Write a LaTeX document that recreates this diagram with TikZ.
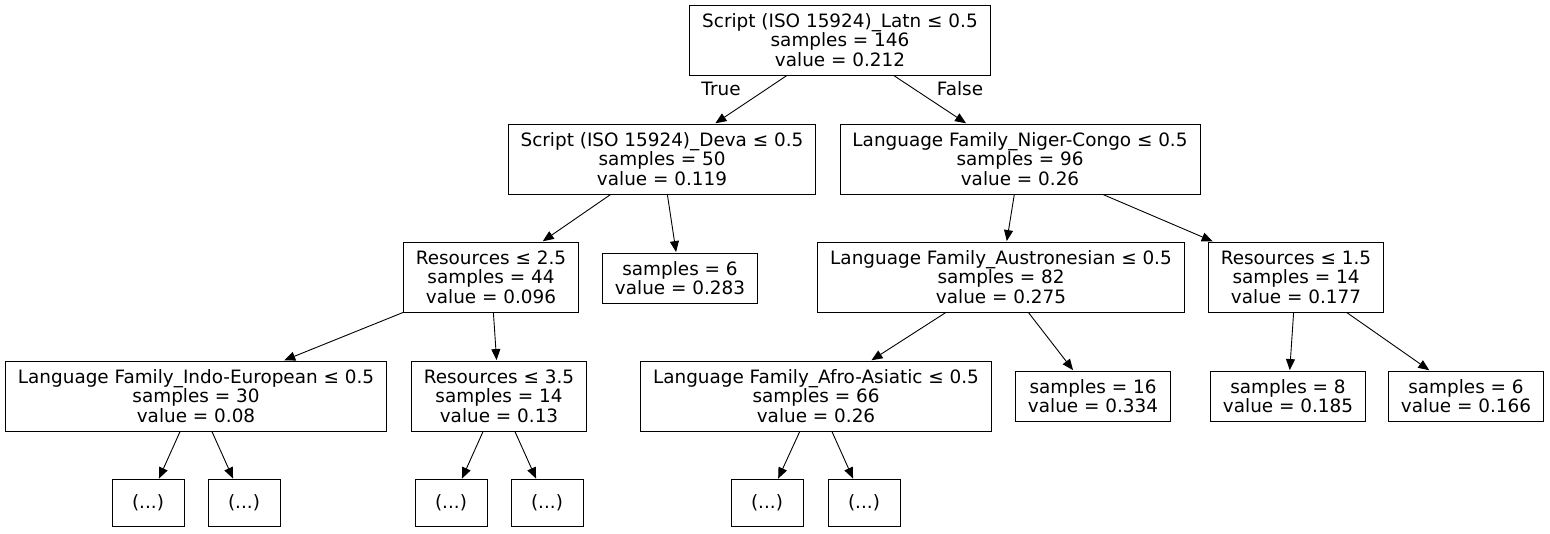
\documentclass[tikz,border=0pt]{standalone}
\usepackage{fontspec}
\setmainfont{DejaVu Sans}
\usetikzlibrary{arrows.meta}

\tikzset{
  split/.style={draw, line width=0.9pt, align=center, inner xsep=12.5pt, minimum height=70pt,
    font=\fontsize{18.4}{19.5}\selectfont},
  leaf/.style={split, minimum height=50pt},
  more/.style={split, minimum height=47pt, minimum width=72pt},
  edge/.style={line width=0.9pt, -{Triangle[length=11pt,width=9pt]}, shorten >=0.5pt}
}

\begin{document}
\begin{tikzpicture}[x=1pt,y=1pt]
\useasboundingbox (0,0) rectangle (1550,-533);

% level 0 and 1
\node[split] (root) at (840,-40) {Script (ISO 15924)\_Latn ≤ 0.5\\samples = 146\\value = 0.212};
\node[split] (deva) at (662,-159) {Script (ISO 15924)\_Deva ≤ 0.5\\samples = 50\\value = 0.119};
\node[split] (niger) at (1020,-159) {Language Family\_Niger-Congo ≤ 0.5\\samples = 96\\value = 0.26};

% level 2
\node[split] (res25) at (491,-277) {Resources ≤ 2.5\\samples = 44\\value = 0.096};
\node[leaf] (devaleaf) at (680,-278) {samples = 6\\value = 0.283};
\node[split] (austro) at (1001,-277) {Language Family\_Austronesian ≤ 0.5\\samples = 82\\value = 0.275};
\node[split] (res15) at (1296,-277) {Resources ≤ 1.5\\samples = 14\\value = 0.177};

% level 3
\node[split] (indo) at (196,-396) {Language Family\_Indo-European ≤ 0.5\\samples = 30\\value = 0.08};
\node[split] (res35) at (499,-396) {Resources ≤ 3.5\\samples = 14\\value = 0.13};
\node[split] (afro) at (816,-396) {Language Family\_Afro-Asiatic ≤ 0.5\\samples = 66\\value = 0.26};
\node[leaf] (austroleaf) at (1093,-396) {samples = 16\\value = 0.334};
\node[leaf] (resleafA) at (1288,-396) {samples = 8\\value = 0.185};
\node[leaf] (resleafB) at (1466,-396) {samples = 6\\value = 0.166};

% truncated subtrees
\node[more] (dotsA) at (148,-503) {(...)};
\node[more] (dotsB) at (244,-503) {(...)};
\node[more] (dotsC) at (451,-503) {(...)};
\node[more] (dotsD) at (547,-503) {(...)};
\node[more] (dotsE) at (767,-503) {(...)};
\node[more] (dotsF) at (864,-503) {(...)};

\draw[edge] (root) -- (deva);
\draw[edge] (root) -- (niger);
\node[font=\fontsize{18.4}{19.5}\selectfont] (truelbl) at (721,-89) {True};
\node[font=\fontsize{18.4}{19.5}\selectfont] (falselbl) at (960,-89) {False};

\draw[edge] (deva) -- (res25);
\draw[edge] (deva) -- (devaleaf);
\draw[edge] (niger) -- (austro);
\draw[edge] (niger) -- (res15);

\draw[edge] (res25) -- (indo);
\draw[edge] (res25) -- (res35);
\draw[edge] (austro) -- (afro);
\draw[edge] (austro) -- (austroleaf);
\draw[edge] (res15) -- (resleafA);
\draw[edge] (res15) -- (resleafB);

\draw[edge] (indo) -- (dotsA);
\draw[edge] (indo) -- (dotsB);
\draw[edge] (res35) -- (dotsC);
\draw[edge] (res35) -- (dotsD);
\draw[edge] (afro) -- (dotsE);
\draw[edge] (afro) -- (dotsF);
\end{tikzpicture}
\end{document}
